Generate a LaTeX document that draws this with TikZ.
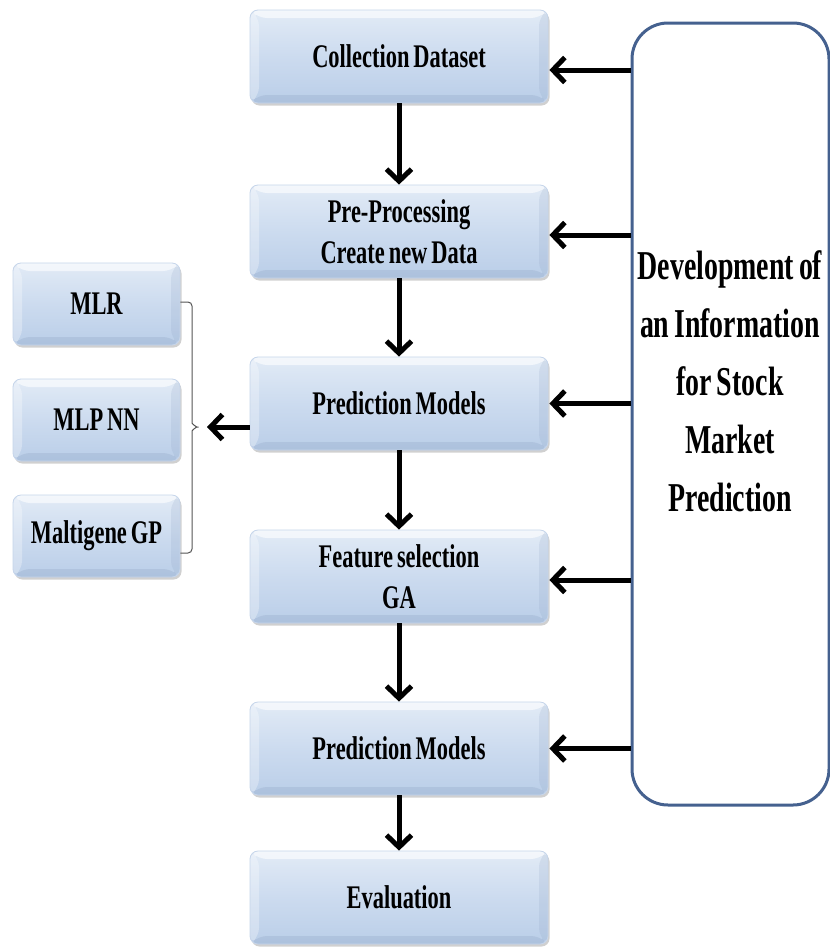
\documentclass[tikz,border=0pt]{standalone}
\usepackage{fontspec}
\setmainfont{Liberation Serif}[FakeStretch=0.68, WordSpace=0.7]
\usetikzlibrary{arrows.meta,shadows,calc}

\definecolor{bvtop}{HTML}{E2EBF6}
\definecolor{bvmid}{HTML}{CCDBEF}
\definecolor{bvbot}{HTML}{BACEE8}
\definecolor{bvedge}{HTML}{C6D5EA}
\definecolor{bvdark}{HTML}{7F95B8}
\definecolor{infoblue}{HTML}{45618F}
\definecolor{bracegray}{HTML}{555555}

\tikzset{
  bevbox/.style={rounded corners=8pt, draw=bvedge, line width=0.8pt,
    top color=bvtop, bottom color=bvbot, middle color=bvmid,
    text=black, align=center, inner sep=0pt,
    font=\bfseries\fontsize{33}{41}\selectfont,
    drop shadow={shadow xshift=1.5pt, shadow yshift=-2.5pt, opacity=0.3, fill=black!60},
    path picture={
      \fill[white, opacity=0.6]
        (path picture bounding box.north west) -- (path picture bounding box.north east)
        -- ([shift={(-9pt,-8pt)}]path picture bounding box.north east)
        -- ([shift={(9pt,-8pt)}]path picture bounding box.north west) -- cycle;
      \fill[white, opacity=0.3]
        (path picture bounding box.north west) -- ([shift={(9pt,-8pt)}]path picture bounding box.north west)
        -- ([shift={(9pt,8pt)}]path picture bounding box.south west)
        -- (path picture bounding box.south west) -- cycle;
      \fill[bvdark, opacity=0.15]
        (path picture bounding box.north east) -- ([shift={(-9pt,-8pt)}]path picture bounding box.north east)
        -- ([shift={(-9pt,8pt)}]path picture bounding box.south east)
        -- (path picture bounding box.south east) -- cycle;
      \fill[bvdark, opacity=0.22]
        (path picture bounding box.south west) -- (path picture bounding box.south east)
        -- ([shift={(-9pt,8pt)}]path picture bounding box.south east)
        -- ([shift={(9pt,8pt)}]path picture bounding box.south west) -- cycle;
    }},
  mainbox/.style={bevbox, minimum width=298pt, minimum height=93pt},
  sidebox/.style={bevbox, minimum width=167pt, minimum height=82pt},
  arr/.style={line width=5pt, -{Straight Barb[length=12pt, width=25pt]}},
  infobox/.style={draw=infoblue, line width=3pt, rounded corners=36pt, fill=white},
  infotext/.style={align=center, font=\bfseries\fontsize{41}{58}\selectfont, inner sep=0pt}
}

\begin{document}
\begin{tikzpicture}[x=1pt, y=-1pt]
  \useasboundingbox (0,0) rectangle (830,948);
  \fill[white] (0,0) rectangle (830,948);

  % information box on the right
  \node[infobox, minimum width=197pt, minimum height=782pt] (info) at (730.5,414) {};
  \node[infotext] (infotxt) at (730,381)
    {Development of\\an Information\\for Stock\\Market\\Prediction};

  % main process chain
  \node[mainbox] (c1) at (399,56.5)  {Collection Dataset};
  \node[mainbox] (c2) at (399,231.5) {Pre-Processing\\Create new Data};
  \node[mainbox] (c3) at (399,403.5) {Prediction Models};
  \node[mainbox] (c4) at (399,576.5) {Feature selection\\GA};
  \node[mainbox] (c5) at (399,748.5) {Prediction Models};
  \node[mainbox] (c6) at (399,897.5) {Evaluation};

  % model alternatives
  \node[sidebox] (m1) at (96.5,304) {MLR};
  \node[sidebox] (m2) at (96.5,420) {MLP NN};
  \node[sidebox] (m3) at (96.5,536) {Maltigene GP};

  % brace grouping the models
  \coordinate (bt) at (201,427);
  \draw[bracegray, line width=1pt, rounded corners=4pt]
    (m1.east |- 0,302) -- (192,302) -- (192,419) to[out=-90,in=180] (bt)
    to[out=180,in=90] (192,435) -- (192,553) -- (m3.east |- 0,553);

  % vertical flow
  \draw[arr] (c1) -- (c2);
  \draw[arr] (c2) -- (c3);
  \draw[arr] (c3) -- (c4);
  \draw[arr] (c4) -- (c5);
  \draw[arr] (c5) -- (c6);

  % feeds from the information box
  \coordinate (f1) at ($(c1.east)+(1,13.5)$);
  \coordinate (f2) at ($(c2.east)+(1,3.5)$);
  \coordinate (f3) at ($(c3.east)+(1,0)$);
  \coordinate (f4) at ($(c4.east)+(1,3.5)$);
  \coordinate (f5) at ($(c5.east)+(1,0)$);
  \foreach \f in {f1,f2,f3,f4,f5}
    \draw[arr] (\f -| info.west) -- (\f);

  % link to the model group
  \coordinate (g3) at ($(c3.west |- bt)$);
  \draw[arr, shorten >=6pt] (g3) -- (bt);
\end{tikzpicture}
\end{document}
